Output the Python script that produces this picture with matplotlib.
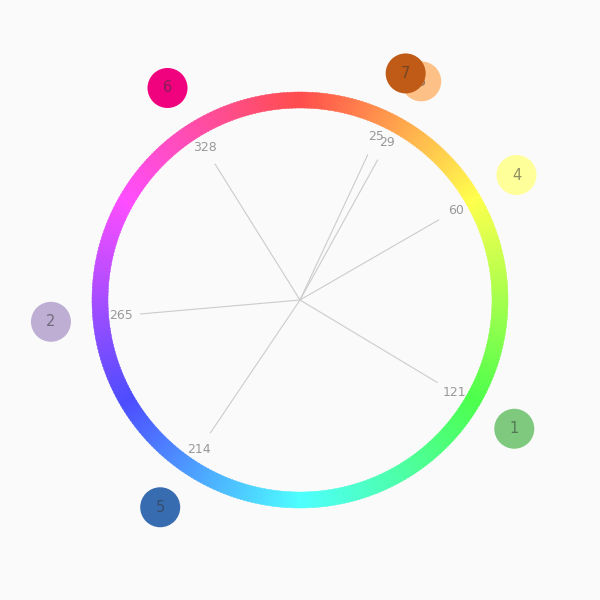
import numpy as np
import matplotlib
matplotlib.use("Agg")
import matplotlib.pyplot as plt
from matplotlib.patches import Wedge, Circle
import colorsys

ids = ["1", "2", "3", "4", "5", "6", "7"]
values = [121, 265, 29, 60, 214, 328, 25]
colors = ["#7fc97f", "#beaed4", "#fdc086", "#ffff99", "#386cb0", "#f0027f", "#bf5b17"]

fig = plt.figure(figsize=(6, 6), dpi=100, facecolor="#fafafa")
ax = fig.add_axes([0, 0, 1, 1])
ax.set_facecolor("#fafafa")
ax.set_xlim(-300, 300)
ax.set_ylim(-300, 300)
ax.set_aspect("equal")
ax.axis("off")

# hue ring
for h in np.arange(0, 360, 1.0):
    r, g, b = colorsys.hsv_to_rgb(h / 360.0, 0.7, 1.0)
    ax.add_patch(Wedge((0, 0), 208, 90 - h - 0.6, 90 - h + 0.6, width=16,
                       facecolor=(r, g, b), edgecolor=(r, g, b), lw=0.3))

def pos(angle, r):
    a = np.deg2rad(angle)
    return r * np.sin(a), r * np.cos(a)

for v in values:
    x1, y1 = pos(v, 160)
    ax.plot([0, x1], [0, y1], color="#cccccc", lw=0.8, zorder=2)
    lx, ly = pos(v, 180)
    ax.text(lx, ly, str(v), ha="center", va="center", fontsize=9,
            color="#999999", zorder=3)

for k, (i, v, c) in enumerate(zip(ids, values, colors)):
    cx, cy = pos(v, 250)
    z = 4 + 2 * k
    ax.add_patch(Circle((cx, cy), 20, facecolor=c, edgecolor="none", zorder=z))
    ax.text(cx, cy, i, ha="center", va="center", fontsize=10.5,
            color="#333333", alpha=0.55, zorder=z + 1)

fig.savefig("out.png", dpi=100, facecolor="#fafafa")
